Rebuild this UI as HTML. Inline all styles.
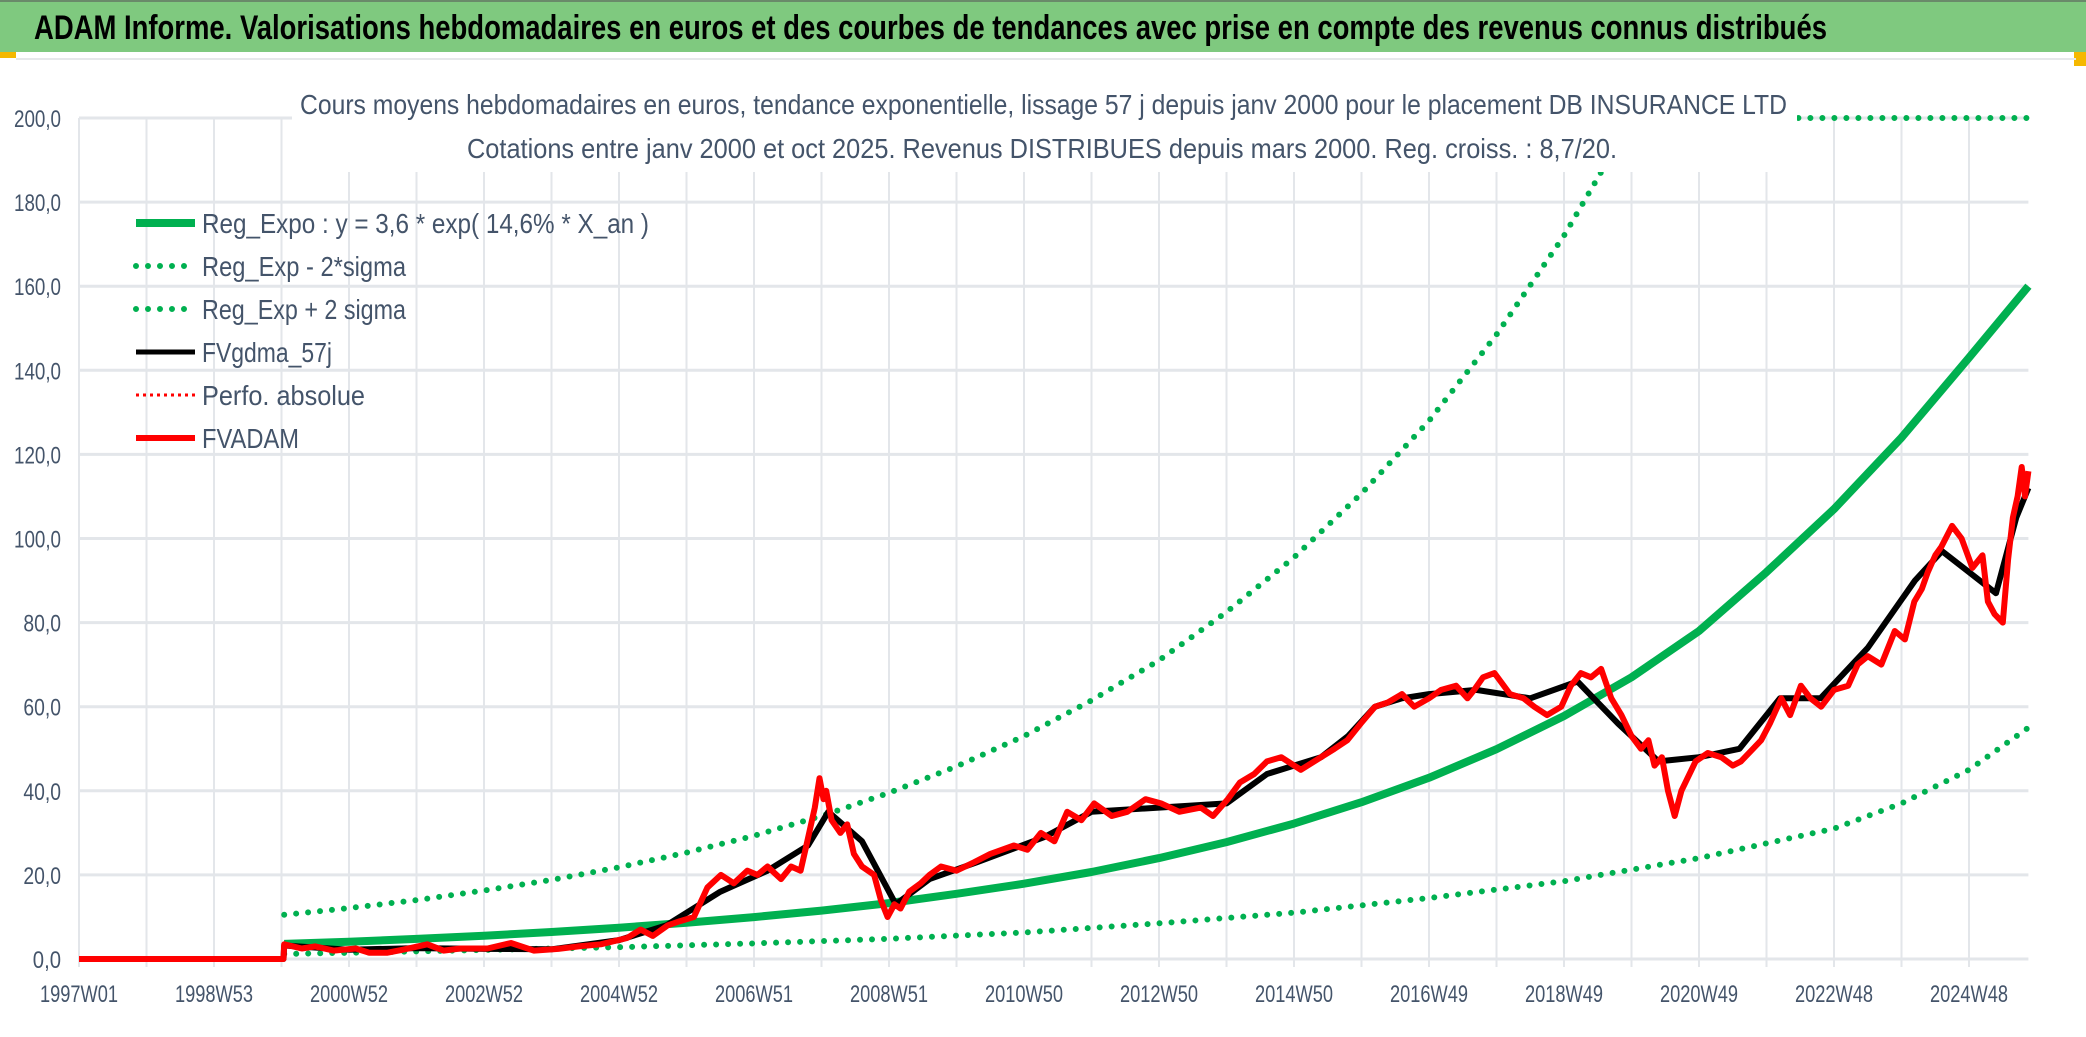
<!DOCTYPE html>
<html><head><meta charset="utf-8"><style>
html,body{margin:0;padding:0;background:#fff}
svg{display:block;font-family:"Liberation Sans",sans-serif}
</style></head><body>
<svg id="chart" width="2086" height="1037" viewBox="0 0 2086 1037" xmlns="http://www.w3.org/2000/svg">
<rect x="0" y="0" width="2086" height="1037" fill="#fff"/>
<g>
<rect x="0" y="0" width="2086" height="52" fill="#7fc97f"/>
<rect x="0" y="0" width="2086" height="2" fill="#6a8a6a"/>
<rect x="0" y="52" width="16" height="6" fill="#f5b800"/>
<rect x="2074" y="52" width="12" height="14" fill="#f5b800"/>
<rect x="16" y="58" width="2060" height="2" fill="#e6e8ea"/>
<text x="34" y="39" font-size="34" font-weight="bold" fill="#000" textLength="1793" lengthAdjust="spacingAndGlyphs">ADAM Informe. Valorisations hebdomadaires en euros et des courbes de tendances avec prise en compte des revenus connus distribués</text>
</g>
<g id="grid"></g>
<g id="yticks"></g>
<g id="xticks"></g>
<g id="series"></g>
<g>
<rect x="292" y="80" width="1505" height="92" fill="#fff"/>
<text x="300" y="114" font-size="28" fill="#44546a" textLength="1487" lengthAdjust="spacingAndGlyphs">Cours moyens hebdomadaires en euros, tendance exponentielle, lissage 57 j depuis janv 2000 pour le placement DB INSURANCE LTD</text>
<text x="467" y="158" font-size="28" fill="#44546a" textLength="1150" lengthAdjust="spacingAndGlyphs">Cotations entre janv 2000 et oct 2025. Revenus DISTRIBUES depuis mars 2000. Reg. croiss. : 8,7/20.</text>
</g>
<g id="legend"></g>
</svg>
<script>
// data: t = years since 1997W01
const xTickLabels=["1997W01","1998W53","2000W52","2002W52","2004W52","2006W51","2008W51","2010W50","2012W50","2014W50","2016W49","2018W49","2020W49","2022W48","2024W48"];
const yTickValues=[0,20,40,60,80,100,120,140,160,180,200];
const regT=[3.04,4,5,6,7,8,9,10,11,12,13,14,15,16,17,18,19,20,21,22,23,24,25,26,27,28,28.88];
const regV=[3.6,4.12,4.79,5.55,6.42,7.44,8.61,9.97,11.5,13.3,15.5,17.9,20.7,24.0,27.8,32.2,37.3,43.1,49.9,57.8,67,78,92,107,124,143,160];
const upT=[3.04,4,5,6,7,8,9,10,11,12,13,14,15,16,17,18,19,20,21,22,23,24,25,26,27,28,28.88];
const upV=[10.5,12.1,14,16.3,18.8,21.8,25.3,29.3,34,39.5,45.8,53,61.5,71,82.5,95.5,110.7,128,148.5,172,199.5,231,268,300,340,380,420];
const lowT=[3.04,5,8,10,12,14,16,18,20,22,24,26,27,28,28.88];
const lowV=[1.2,1.8,2.8,3.7,4.8,6.3,8.5,11,14.5,18.5,24,31,37,45,55];
const redT=[0,3.03,3.04,3.3,3.5,3.77,4.1,4.3,4.57,4.8,5.16,5.4,5.65,6.05,6.4,6.74,7.1,7.4,7.73,8.12,8.32,8.5,8.72,8.9,9.11,9.31,9.51,9.7,9.9,10.05,10.2,10.4,10.55,10.69,10.79,10.9,10.97,11.03,11.07,11.15,11.28,11.38,11.48,11.6,11.78,11.88,11.98,12.08,12.17,12.3,12.47,12.6,12.77,13,13.26,13.5,13.85,14.05,14.25,14.45,14.64,14.85,15.04,15.3,15.53,15.8,16.03,16.3,16.62,16.8,17.02,17.2,17.41,17.6,17.81,18.1,18.4,18.6,18.79,18.99,19.2,19.39,19.6,19.78,20,20.18,20.4,20.57,20.67,20.8,20.97,21.2,21.4,21.56,21.75,21.96,22.1,22.25,22.4,22.55,22.7,22.85,23,23.14,23.25,23.34,23.45,23.54,23.64,23.74,23.95,24.13,24.33,24.5,24.62,24.8,24.92,25.05,25.22,25.35,25.51,25.65,25.81,26,26.21,26.35,26.5,26.7,26.9,27.05,27.19,27.3,27.39,27.5,27.59,27.75,27.89,28.05,28.2,28.28,28.38,28.5,28.58,28.65,28.72,28.78,28.83,28.88];
const redV=[0,0,3.5,2.5,3,2,2.5,1.5,1.5,2.2,3.5,2,2.5,2.5,3.8,2,2.4,3,3.5,5,7,5.5,8,9,10,17,20,18,21,20,22,19,22,21,28,36,43,38,40,33,30,32,25,22,20,14,10,13,12,16,18,20,22,21,23,25,27,26,30,28,35,33,37,34,35,38,37,35,36,34,38,42,44,47,48,45,48,50,52,56,60,61,63,60,62,64,65,62,64,67,68,63,62,60,58,60,65,68,67,69,62,58,53,50,52,46,48,40,34,40,47,49,48,46,47,50,52,56,62,58,65,62,60,64,65,70,72,70,78,76,85,88,92,96,98,103,100,93,96,85,82,80,95,105,110,117,110,116,115];
const blkT=[0,3.03,3.04,4,5,6,7,8,8.7,9.5,10.2,10.8,11.1,11.6,12.1,12.6,13.3,14.3,15,16,17,17.6,18.4,18.8,19.2,19.6,20,20.7,21.5,22.2,22.8,23.4,24,24.6,25.2,25.8,26.5,27.2,27.6,28,28.4,28.7,28.88];
const blkV=[0,0,3.2,2.2,2.6,2.4,2.3,4.5,8,16,21,27,35,28,13,19,23,29,35,36,37,44,48,53,60,62,63,64,62,66,56,47,48,50,62,62,74,90,97,92,87,105,112];
// axes
const X0=79,PX=67.5,Y0=959,PY=4.205;
const xs=t=>X0+t*PX, ys=v=>Y0-Math.min(v,200)*PY;
const NS="http://www.w3.org/2000/svg";
function mk(tag,attrs,parent){const e=document.createElementNS(NS,tag);for(const k in attrs)e.setAttribute(k,attrs[k]);parent.appendChild(e);return e;}
const grid=document.getElementById('grid');
for(let i=0;i<=28;i++){const l=mk('line',{x1:xs(i),x2:xs(i),y1:ys(200),y2:Y0+8,stroke:'#e3e6ea','stroke-width':2},grid);

}
yTickValues.forEach(v=>{const l=mk('line',{x1:X0,x2:xs(28.88),y1:ys(v),y2:ys(v),stroke:'#e3e6ea','stroke-width':3},grid);


const s=v.toFixed(1).replace('.',',');
const t=mk('text',{x:61,y:ys(v)+9,'text-anchor':'end','font-size':24,fill:'#44546a',textLength:s.length*9.4,lengthAdjust:'spacingAndGlyphs'},document.getElementById('yticks'));
t.textContent=s;

});
xTickLabels.forEach((s,i)=>{const t=mk('text',{x:xs(i*2),y:1002,'text-anchor':'middle','font-size':24,fill:'#44546a',textLength:78,lengthAdjust:'spacingAndGlyphs'},document.getElementById('xticks'));
t.textContent=s;

});
const ser=document.getElementById('series');
function line(T,V,style,name){const d=T.map((t,i)=>(i?'L':'M')+xs(t).toFixed(1)+','+ys(V[i]).toFixed(1)).join('');
const p=mk('path',Object.assign({d:d,fill:'none','stroke-linejoin':'round'},style),ser);

}
const dot={stroke:'#00b050','stroke-width':6,'stroke-dasharray':'0 12','stroke-linecap':'round'};
line(upT,upV,dot,'reg-exp-plus-2-sigma-line');
line(lowT,lowV,dot,'reg-exp-minus-2-sigma-line');
line(regT,regV,{stroke:'#00b050','stroke-width':8},'reg-expo-line');
line(blkT,blkV,{stroke:'#000','stroke-width':6},'fvgdma-57j-line');
line(redT,redV,{stroke:'#ff0000','stroke-width':6},'fvadam-line');
// legend
const leg=document.getElementById('legend');
const items=[["Reg_Expo : y = 3,6 * exp( 14,6% *  X_an )",{stroke:'#00b050','stroke-width':8},447],["Reg_Exp - 2*sigma",{stroke:'#00b050','stroke-width':6,'stroke-dasharray':'0 12','stroke-linecap':'round'},204],["Reg_Exp + 2 sigma",{stroke:'#00b050','stroke-width':6,'stroke-dasharray':'0 12','stroke-linecap':'round'},204],["FVgdma_57j",{stroke:'#000','stroke-width':5},130],["Perfo. absolue",{stroke:'#ff0000','stroke-width':3,'stroke-dasharray':'3 4'},163],["FVADAM",{stroke:'#ff0000','stroke-width':6},97]];
items.forEach((it,i)=>{const y=223+i*43;
const g=mk('g',{},leg);


mk('line',Object.assign({x1:136,x2:195,y1:y,y2:y},it[1]),g);
const t=mk('text',{x:202,y:y+10,'font-size':28,fill:'#44546a',textLength:it[2],lengthAdjust:'spacingAndGlyphs'},g);t.textContent=it[0];});
</script>
</body></html>
